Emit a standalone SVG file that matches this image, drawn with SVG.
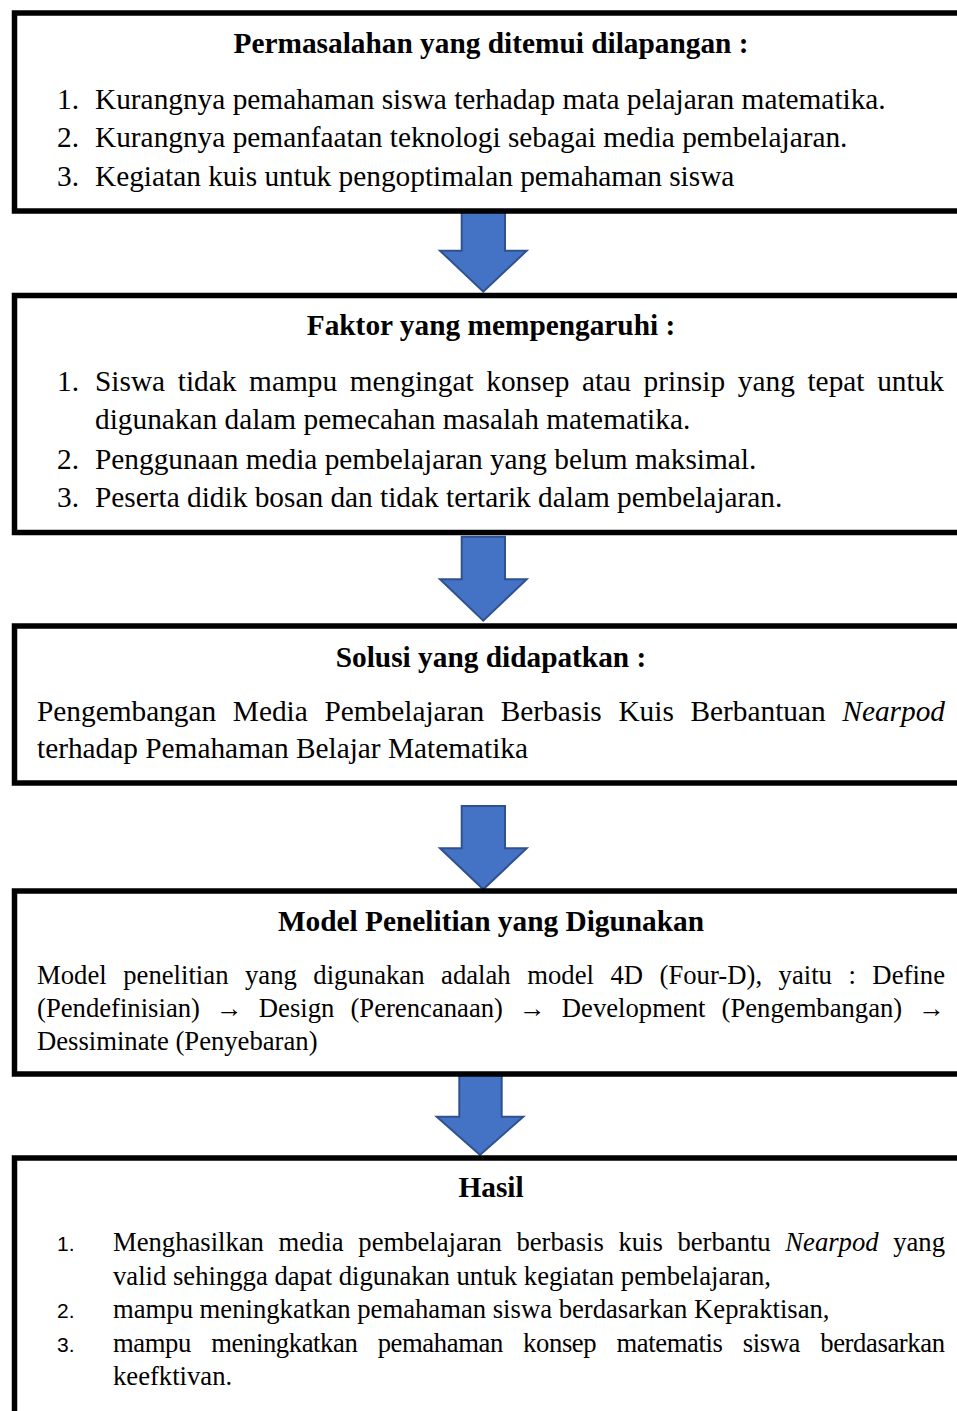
<svg xmlns="http://www.w3.org/2000/svg" width="957" height="1411" viewBox="0 0 957 1411">
<style>
.box{fill:#fff;stroke:#000;stroke-width:5.5}
.arr{fill:#4472C4;stroke:#2F528F;stroke-width:2;stroke-linejoin:miter}
.t{font-family:"Liberation Serif","Times New Roman",serif;fill:#000}
.h{font-size:29.33px;font-weight:bold;text-anchor:middle}
.b{font-size:29.33px}
.s{font-size:26.67px}
.n{font-family:"Liberation Sans",Arial,sans-serif;font-size:21px;fill:#000}
.i{font-style:italic}
</style>
<rect width="957" height="1411" fill="#fff"/>
<g id="connectors">
<polygon class="arr" points="461.7,209 505,209 505,250.7 526.7,250.7 483.3,291.7 440,250.7 461.7,250.7"/>
<polygon class="arr" points="461.7,536.7 505,536.7 505,579.3 526.7,579.3 483.3,620.7 440,579.3 461.7,579.3"/>
<polygon class="arr" points="461.7,806 505,806 505,848.3 526.7,848.3 483.3,889.3 440,848.3 461.7,848.3"/>
<polygon class="arr" points="459.3,1075 501.7,1075 501.7,1116.7 523.3,1116.7 480,1155 436.7,1116.7 459.3,1116.7"/>
</g>
<g id="node-permasalahan">
<rect class="box" x="14.5" y="13" width="1000" height="198"/>
<text class="t h" x="491" y="53">Permasalahan yang ditemui dilapangan :</text>
<text class="t b" x="57" y="109">1.</text>
<text class="t b" x="95" y="109">Kurangnya pemahaman siswa terhadap mata pelajaran matematika.</text>
<text class="t b" x="57" y="147">2.</text>
<text class="t b" x="95" y="147">Kurangnya pemanfaatan teknologi sebagai media pembelajaran.</text>
<text class="t b" x="57" y="186">3.</text>
<text class="t b" x="95" y="186">Kegiatan kuis untuk pengoptimalan pemahaman siswa</text>
</g>
<g id="node-faktor">
<rect class="box" x="14.5" y="295.5" width="1000" height="237"/>
<text class="t h" x="491" y="335">Faktor yang mempengaruhi :</text>
<text class="t b" x="57" y="391">1.</text>
<text class="t b" x="95" y="391" word-spacing="5.3" textLength="849" lengthAdjust="spacing">Siswa tidak mampu mengingat konsep atau prinsip yang tepat untuk</text>
<text class="t b" x="95" y="429">digunakan dalam pemecahan masalah matematika.</text>
<text class="t b" x="57" y="469">2.</text>
<text class="t b" x="95" y="469">Penggunaan media pembelajaran yang belum maksimal.</text>
<text class="t b" x="57" y="507">3.</text>
<text class="t b" x="95" y="507">Peserta didik bosan dan tidak tertarik dalam pembelajaran.</text>
</g>
<g id="node-solusi">
<rect class="box" x="14.5" y="626" width="1000" height="157"/>
<text class="t h" x="491" y="667">Solusi yang didapatkan :</text>
<text class="t b" x="37" y="721" word-spacing="9.3" textLength="908" lengthAdjust="spacing">Pengembangan Media Pembelajaran Berbasis Kuis Berbantuan <tspan class="i">Nearpod</tspan></text>
<text class="t b" x="37" y="758">terhadap Pemahaman Belajar Matematika</text>
</g>
<g id="node-model">
<rect class="box" x="14.5" y="891" width="1000" height="183"/>
<text class="t h" x="491" y="931">Model Penelitian yang Digunakan</text>
<text class="t s" x="37" y="984" word-spacing="9.8" textLength="908" lengthAdjust="spacing">Model penelitian yang digunakan adalah model 4D (Four-D), yaitu : Define</text>
<text class="t s" x="37" y="1017" word-spacing="9.4" textLength="908" lengthAdjust="spacing">(Pendefinisian) → Design (Perencanaan) → Development (Pengembangan) →</text>
<text class="t s" x="37" y="1050">Dessiminate (Penyebaran)</text>
</g>
<g id="node-hasil">
<rect class="box" x="14.5" y="1158" width="1000" height="300"/>
<text class="t h" x="491" y="1197">Hasil</text>
<text class="n" x="57" y="1251">1.</text>
<text class="t s" x="113" y="1251" word-spacing="8" textLength="832" lengthAdjust="spacing">Menghasilkan media pembelajaran berbasis kuis berbantu <tspan class="i">Nearpod</tspan> yang</text>
<text class="t s" x="113" y="1285">valid sehingga dapat digunakan untuk kegiatan pembelajaran,</text>
<text class="n" x="57" y="1318">2.</text>
<text class="t s" x="113" y="1318">mampu meningkatkan pemahaman siswa berdasarkan Kepraktisan,</text>
<text class="n" x="57" y="1352">3.</text>
<text class="t s" x="113" y="1352" word-spacing="14" textLength="832" lengthAdjust="spacing">mampu meningkatkan pemahaman konsep matematis siswa berdasarkan</text>
<text class="t s" x="113" y="1385">keefktivan.</text>
</g>
</svg>
